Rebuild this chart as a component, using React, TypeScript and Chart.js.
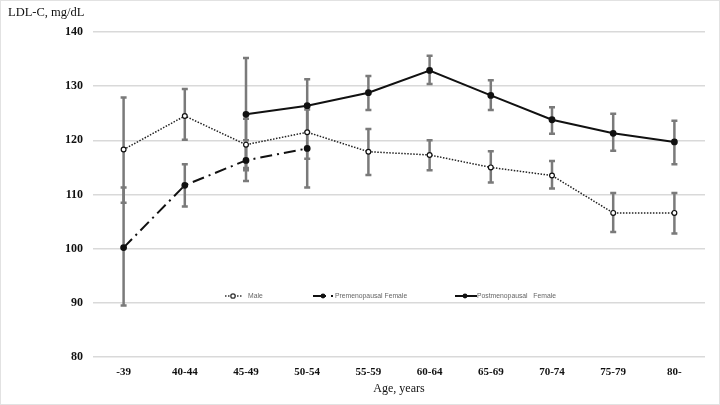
import React, { useEffect, useRef } from "react";
import { Chart, registerables } from "chart.js";

Chart.register(...registerables);

const categories = ["-39", "40-44", "45-49", "50-54", "55-59", "60-64", "65-69", "70-74", "75-79", "80-"];

const male = [118.3, 124.5, 119.2, 121.5, 117.9, 117.3, 115.0, 113.5, 106.6, 106.6];
const maleLow = [108.5, 120.1, 114.9, 116.6, 113.6, 114.5, 112.2, 111.1, 103.1, 102.8];
const maleHigh = [127.9, 129.5, 124.0, 126.3, 122.1, 120.0, 118.0, 116.2, 110.3, 110.3];

const pre = [100.2, 111.7, 116.3, 118.5, null, null, null, null, null, null];
const preLow = [89.5, 107.8, 112.5, 111.3, null, null, null, null, null, null];
const preHigh = [111.3, 115.6, 120.0, 125.7, null, null, null, null, null, null];

const post = [null, null, 124.8, 126.4, 128.8, 132.9, 128.3, 123.8, 121.3, 119.7];
const postLow = [null, null, 114.5, 121.5, 125.6, 130.4, 125.6, 121.2, 118.1, 115.6];
const postHigh = [null, null, 135.2, 131.3, 131.9, 135.6, 131.1, 126.1, 124.9, 123.6];

const yTicks = [80, 90, 100, 110, 120, 130, 140];

const seriesNames = ["Male", "Premenopausal Female", "Postmenopausal   Female"];

const errorBars = [
  { low: maleLow, high: maleHigh },
  { low: preLow, high: preHigh },
  { low: postLow, high: postHigh },
];

const errorBarPlugin = {
  id: "errorBars",
  beforeDatasetsDraw(chart: any) {
    const { ctx, scales } = chart;
    const xs = scales.x;
    const ys = scales.y;
    ctx.save();
    ctx.strokeStyle = "#7a7a7a";
    ctx.lineWidth = 2.5;
    ctx.setLineDash([]);
    errorBars.forEach((eb) => {
      eb.low.forEach((lo, i) => {
        const hi = eb.high[i];
        if (lo == null || hi == null) return;
        const x = xs.getPixelForValue(i);
        const y1 = ys.getPixelForValue(lo);
        const y2 = ys.getPixelForValue(hi);
        ctx.beginPath();
        ctx.moveTo(x, y1);
        ctx.lineTo(x, y2);
        ctx.moveTo(x - 3, y1);
        ctx.lineTo(x + 3, y1);
        ctx.moveTo(x - 3, y2);
        ctx.lineTo(x + 3, y2);
        ctx.stroke();
      });
    });
    ctx.restore();
  },
};

const legendPlugin = {
  id: "customLegend",
  afterDraw(chart: any) {
    const { ctx } = chart;
    ctx.save();
    const y = 296;
    ctx.font = "6.8px 'Liberation Sans', Arial, sans-serif";
    ctx.fillStyle = "#666";
    ctx.textBaseline = "middle";
    ctx.textAlign = "left";
    // Male
    ctx.strokeStyle = "#333";
    ctx.lineWidth = 1.3;
    ctx.setLineDash([1.5, 1.5]);
    ctx.beginPath();
    ctx.moveTo(225, y);
    ctx.lineTo(242, y);
    ctx.stroke();
    ctx.setLineDash([]);
    ctx.beginPath();
    ctx.arc(233, y, 2.2, 0, Math.PI * 2);
    ctx.fillStyle = "#fff";
    ctx.fill();
    ctx.stroke();
    ctx.fillStyle = "#666";
    ctx.fillText(seriesNames[0], 248, y);
    // Pre
    ctx.strokeStyle = "#111";
    ctx.lineWidth = 2;
    ctx.beginPath();
    ctx.moveTo(313, y);
    ctx.lineTo(326, y);
    ctx.moveTo(331, y);
    ctx.lineTo(333, y);
    ctx.stroke();
    ctx.beginPath();
    ctx.arc(323, y, 2.4, 0, Math.PI * 2);
    ctx.fillStyle = "#111";
    ctx.fill();
    ctx.fillStyle = "#666";
    ctx.fillText(seriesNames[1], 335, y);
    // Post
    ctx.strokeStyle = "#111";
    ctx.beginPath();
    ctx.moveTo(455, y);
    ctx.lineTo(477, y);
    ctx.stroke();
    ctx.beginPath();
    ctx.arc(465, y, 2.4, 0, Math.PI * 2);
    ctx.fillStyle = "#111";
    ctx.fill();
    ctx.fillStyle = "#666";
    ctx.fillText(seriesNames[2], 477, y);
    // frame
    ctx.strokeStyle = "#e2e2e2";
    ctx.lineWidth = 1;
    ctx.strokeRect(0.5, 0.5, 719, 404);
    ctx.restore();
  },
};

export default function App() {
  const canvasRef = useRef<HTMLCanvasElement | null>(null);

  useEffect(() => {
    document.body.style.margin = "0";
    const canvas = canvasRef.current;
    if (!canvas) return;
    const chart = new Chart(canvas, {
      type: "line",
      data: {
        labels: categories,
        datasets: [
          {
            label: seriesNames[0],
            data: male,
            borderColor: "#222",
            borderWidth: 1.5,
            borderDash: [1.5, 1.5],
            pointStyle: "circle",
            pointRadius: 2.4,
            pointBorderWidth: 1.2,
            pointBackgroundColor: "#fff",
            pointBorderColor: "#111",
            tension: 0,
          },
          {
            label: seriesNames[1],
            data: pre,
            borderColor: "#111",
            borderWidth: 2,
            borderDash: [12, 5, 2, 5],
            pointRadius: 2.4,
            pointBackgroundColor: "#111",
            pointBorderColor: "#111",
            tension: 0,
            spanGaps: false,
          },
          {
            label: seriesNames[2],
            data: post,
            borderColor: "#111",
            borderWidth: 2,
            pointRadius: 2.4,
            pointBackgroundColor: "#111",
            pointBorderColor: "#111",
            tension: 0,
            spanGaps: false,
          },
        ],
      },
      options: {
        responsive: false,
        animation: false,
        layout: { padding: { left: 8, right: 15, top: 0, bottom: 0 } },
        plugins: {
          legend: { display: false },
          tooltip: { enabled: false },
          title: {
            display: true,
            text: "LDL-C, mg/dL",
            align: "start",
            color: "#111",
            font: { family: "'Liberation Serif', 'Times New Roman', serif", size: 12.5, weight: "normal" },
            padding: { top: 5, bottom: 12 },
          },
        },
        scales: {
          x: {
            type: "category",
            offset: true,
            grid: { display: false, drawTicks: false },
            border: { display: false },
            ticks: {
              color: "#111",
              padding: 9,
              font: { family: "'Liberation Serif', 'Times New Roman', serif", size: 11, weight: "bold" },
            },
            title: {
              display: true,
              text: "Age, years",
              color: "#111",
              font: { family: "'Liberation Serif', 'Times New Roman', serif", size: 12 },
              padding: { top: 0, bottom: 9 },
            },
            afterFit(scale: any) {
              scale.height = 48;
            },
          },
          y: {
            min: 80,
            max: 140,
            afterBuildTicks(scale: any) {
              scale.ticks = yTicks.map((v) => ({ value: v }));
            },
            grid: { color: "#d9d9d9", lineWidth: 1.5, drawTicks: false },
            border: { display: false },
            ticks: {
              color: "#111",
              padding: 10,
              font: { family: "'Liberation Serif', 'Times New Roman', serif", size: 12, weight: "bold" },
            },
            afterFit(scale: any) {
              scale.width = 85;
            },
          },
        },
      },
      plugins: [errorBarPlugin, legendPlugin],
    });
    return () => chart.destroy();
  }, []);

  return (
    <div style={{ position: "absolute", left: 0, top: 0, width: 720, height: 405, background: "#fff" }}>
      <canvas ref={canvasRef} width={720} height={405} />
    </div>
  );
}
